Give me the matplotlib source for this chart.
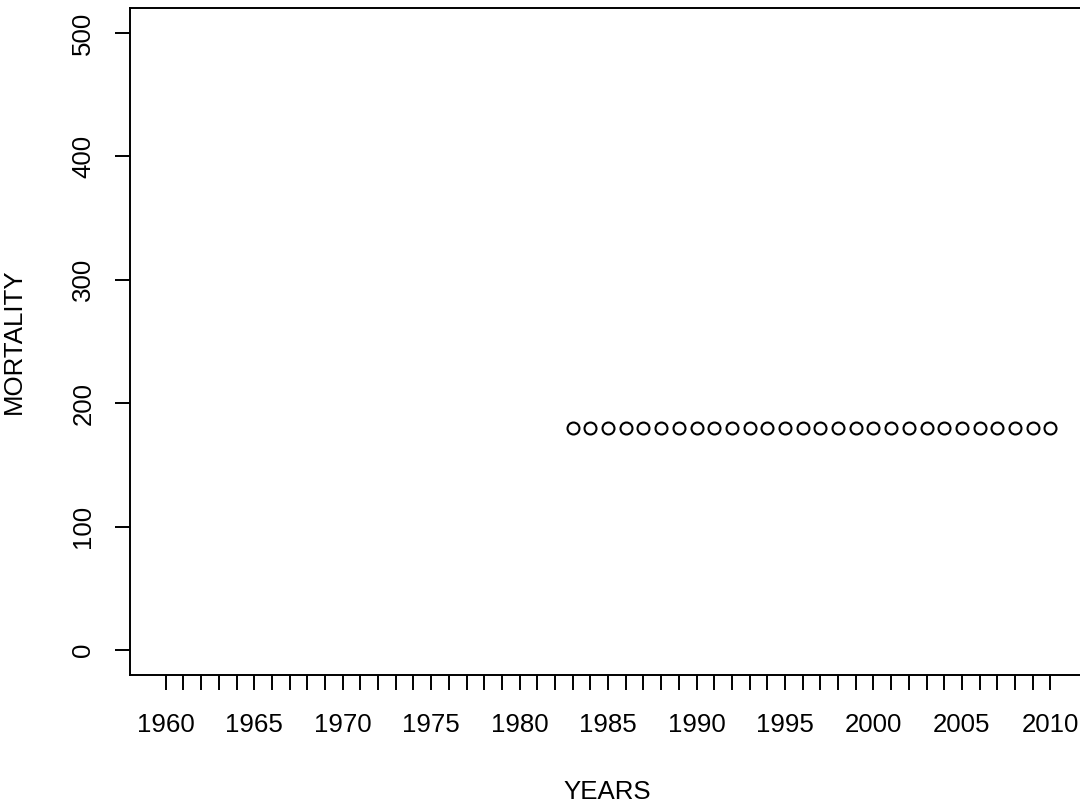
import matplotlib
matplotlib.use("Agg")
import matplotlib.pyplot as plt

plt.rcParams['font.family'] = ['Liberation Sans', 'DejaVu Sans']

# mortality per year
years = [1983, 1984, 1985, 1986, 1987, 1988, 1989, 1990, 1991, 1992,
         1993, 1994, 1995, 1996, 1997, 1998, 1999, 2000, 2001, 2002,
         2003, 2004, 2005, 2006, 2007, 2008, 2009, 2010]
mortality = [180, 180, 180, 180, 180, 180, 180, 180, 180, 180,
             180, 180, 180, 180, 180, 180, 180, 180, 180, 180,
             180, 180, 180, 180, 180, 180, 180, 180]

x_ticks = list(range(1960, 2011))
x_labels = [str(y) if y % 5 == 0 else '' for y in x_ticks]
y_ticks = [0, 100, 200, 300, 400, 500]

W, H = 1080, 806
fig = plt.figure(figsize=(W / 100, H / 100), dpi=100)
ax = fig.add_axes([130 / W, (H - 675) / H, (1084 - 130) / W, (675 - 8) / H])

ax.plot(years, mortality, linestyle='none', marker='o', markersize=8.6,
        markerfacecolor='none', markeredgecolor='black', markeredgewidth=1.5)

ax.set_xlim(1957.98, 2011.9)
ax.set_ylim(-20.3, 520.3)

for s in ax.spines.values():
    s.set_linewidth(1.4)

ax.set_xticks(x_ticks)
ax.set_xticklabels(x_labels)
ax.set_yticks(y_ticks)
ax.set_yticklabels([str(v) for v in y_ticks], rotation=90, va='center')
ax.tick_params(direction='out', length=11, width=1.4, labelsize=18.6)
ax.tick_params(axis='x', pad=16)
ax.tick_params(axis='y', pad=14)

ax.set_xlabel('YEARS', fontsize=18.6, labelpad=31)
ax.set_ylabel('MORTALITY', fontsize=18.6, labelpad=33)

fig.savefig('out.png', dpi=100)
